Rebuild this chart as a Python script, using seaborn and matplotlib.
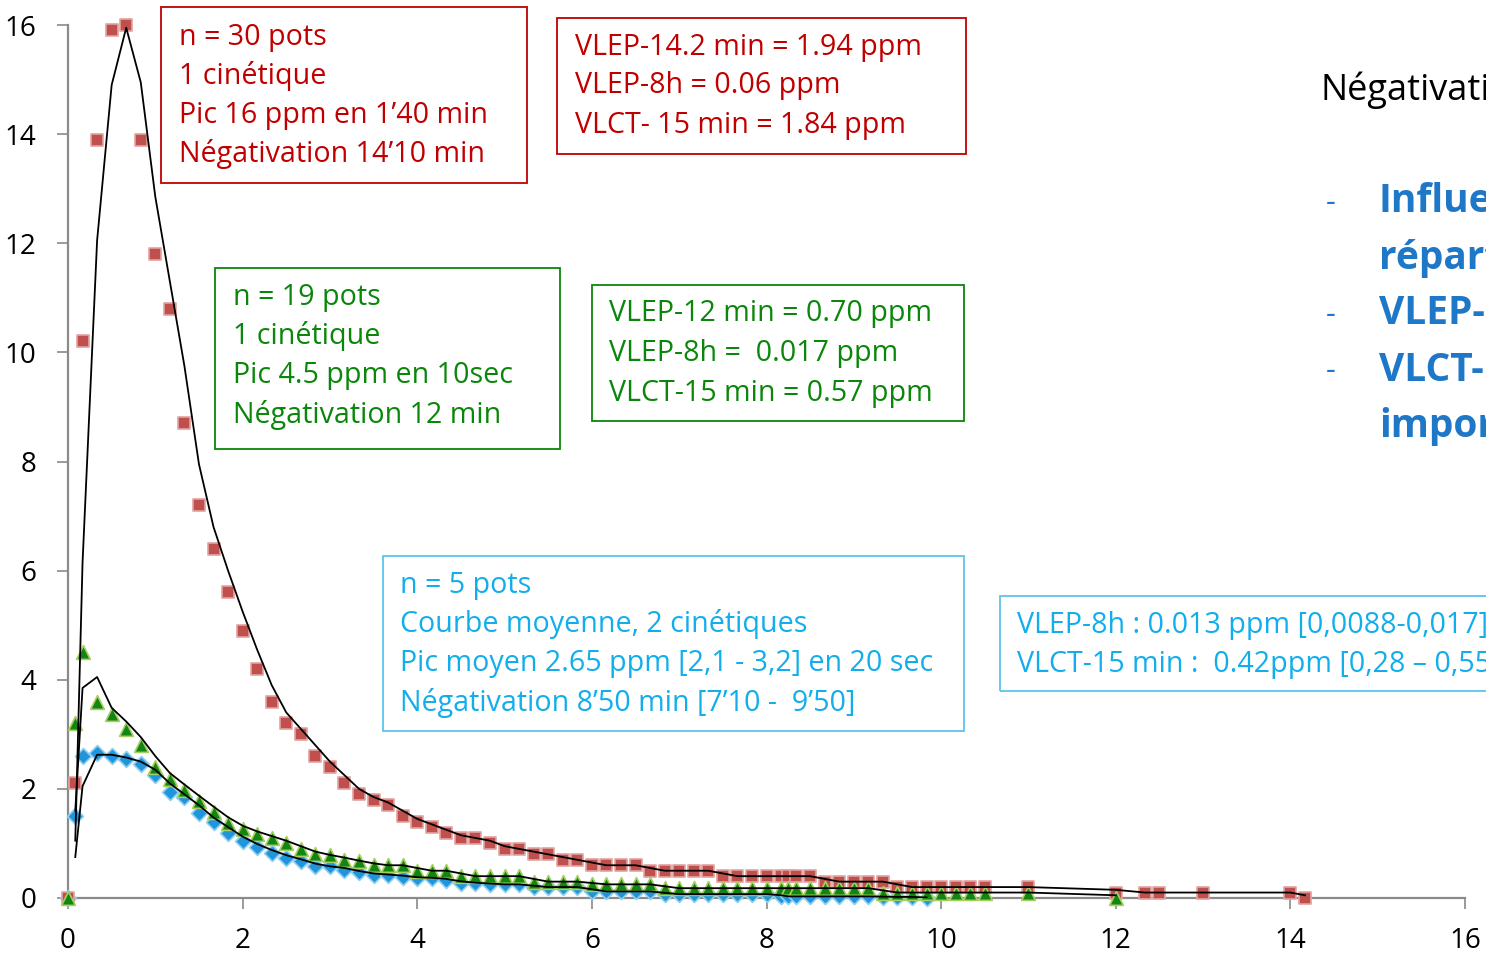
import numpy as np
import pandas as pd
import matplotlib
matplotlib.use("Agg")
import matplotlib.pyplot as plt
import seaborn as sns
from matplotlib.patches import Rectangle

nan = float("nan")

# sampling times (seconds)
temps_s = [0, 5, 10, 20, 30, 40, 50, 60, 70, 80,
           90, 100, 110, 120, 130, 140, 150, 160, 170, 180,
           190, 200, 210, 220, 230, 240, 250, 260, 270, 280,
           290, 300, 310, 320, 330, 340, 350, 360, 370, 380,
           390, 400, 410, 420, 430, 440, 450, 460, 470, 480,
           490, 495, 500, 510, 520, 530, 540, 550, 560, 570,
           580, 590, 600, 610, 620, 630, 660, 720, 740, 750,
           780, 840, 850]

# concentrations (ppm) - 30 pots
pots30 = [0, 2.1, 10.2, 13.9, 15.9, 16.0, 13.9, 11.8, 10.8, 8.7,
          7.2, 6.4, 5.6, 4.9, 4.2, 3.6, 3.2, 3.0, 2.6, 2.4,
          2.1, 1.9, 1.8, 1.7, 1.5, 1.4, 1.3, 1.2, 1.1, 1.1,
          1.0, 0.9, 0.9, 0.8, 0.8, 0.7, 0.7, 0.6, 0.6, 0.6,
          0.6, 0.5, 0.5, 0.5, 0.5, 0.5, 0.4, 0.4, 0.4, 0.4,
          0.4, 0.4, 0.4, 0.4, 0.3, 0.3, 0.3, 0.3, 0.3, 0.2,
          0.2, 0.2, 0.2, 0.2, 0.2, 0.2, 0.2, 0.1, 0.1, 0.1,
          0.1, 0.1, 0.0]

# 19 pots
pots19 = [0, 3.2, 4.5, 3.6, 3.37, 3.1, 2.8, 2.4, 2.18, 1.98,
          1.77, 1.58, 1.38, 1.27, 1.17, 1.1, 1.0, 0.9, 0.8, 0.78,
          0.7, 0.67, 0.6, 0.6, 0.6, 0.5, 0.5, 0.5, 0.4, 0.4,
          0.4, 0.4, 0.4, 0.3, 0.3, 0.3, 0.3, 0.25, 0.25, 0.25,
          0.25, 0.25, 0.18, 0.18, 0.18, 0.18, 0.18, 0.18, 0.18, 0.18,
          0.18, 0.18, 0.18, 0.18, 0.18, 0.18, 0.18, 0.18, 0.1, 0.1,
          0.1, 0.1, 0.1, 0.1, 0.1, 0.1, 0.1, 0.0, nan, nan,
          nan, nan, nan]

# 5 pots (courbe moyenne)
pots5 = [0, 1.5, 2.6, 2.65, 2.6, 2.55, 2.45, 2.25, 1.95, 1.85,
         1.55, 1.4, 1.2, 1.05, 0.93, 0.83, 0.74, 0.68, 0.58, 0.58,
         0.52, 0.47, 0.43, 0.43, 0.39, 0.37, 0.37, 0.33, 0.28, 0.28,
         0.25, 0.25, 0.25, 0.2, 0.2, 0.2, 0.2, 0.12, 0.12, 0.12,
         0.12, 0.12, 0.07, 0.07, 0.07, 0.07, 0.07, 0.07, 0.07, 0.07,
         0.03, 0.03, 0.03, 0.03, 0.03, 0.03, 0.03, 0.03, 0.02, 0.02,
         0.02, 0.0, nan, nan, nan, nan, nan, nan, nan, nan,
         nan, nan, nan]

x_ticks = [0, 2, 4, 6, 8, 10, 12, 14, 16]
y_ticks = [0, 2, 4, 6, 8, 10, 12, 14, 16]

W, H = 1486, 955
plt.rcParams["font.family"] = ["Open Sans", "DejaVu Sans"]

fig = plt.figure(figsize=(W / 100, H / 100), dpi=100)
ax = fig.add_axes([68 / W, 1 - 898 / H, (1465 - 68) / W, (898 - 25) / H])

series = [
    (pots5, "D", 66, "#2294DA", "#8ECFF2"),
    (pots30, "s", 80, "#C0504D", "#E2A3A1"),
    (pots19, "^", 98, "#138513", "#A6CE62"),
]
draw_order = [1, 0, 2]  # red, blue, green on top

for i in draw_order:
    vals, mk, size, fc, ec = series[i]
    df = pd.DataFrame({"t": np.array(temps_s) / 60.0, "ppm": vals}).dropna()
    sns.scatterplot(data=df, x="t", y="ppm", marker=mk, s=size, color=fc,
                    edgecolor=ec, linewidth=1.2, ax=ax, clip_on=False,
                    zorder=3 + i * 0.1)

# moving average trendlines (period 2)
for vals, *_ in series:
    df = pd.DataFrame({"t": np.array(temps_s) / 60.0, "ppm": vals}).dropna()
    df["mm"] = df["ppm"].rolling(2).mean()
    df = df.dropna()
    sns.lineplot(data=df, x="t", y="mm", estimator=None, sort=False,
                 color="black", linewidth=1.3, ax=ax, zorder=5)

ax.set_xlim(0, 16)
ax.set_ylim(0, 16)
ax.set_xticks(x_ticks)
ax.set_yticks(y_ticks)
ax.set_xlabel("")
ax.set_ylabel("")
for s in ["top", "right"]:
    ax.spines[s].set_visible(False)
for s in ["left", "bottom"]:
    ax.spines[s].set_color("#8A8A8A")
    ax.spines[s].set_linewidth(1.6)
ax.tick_params(axis="both", colors="#8A8A8A", width=1.2, labelcolor="black",
               labelsize=20)
ax.tick_params(axis="x", length=8, pad=13)
ax.tick_params(axis="y", length=8, pad=15)
ax.set_facecolor("white")


def box(x0, y0, x1, y1, color):
    fig.patches.append(Rectangle((x0 / W, 1 - y1 / H), (x1 - x0) / W, (y1 - y0) / H,
                                 transform=fig.transFigure, fill=False,
                                 edgecolor=color, linewidth=1.3, zorder=6))


def lines(x, ys, texts, color, size=20.6, weight="normal"):
    for y, t in zip(ys, texts):
        fig.text(x / W, 1 - y / H, t, color=color, fontsize=size,
                 fontweight=weight, va="center", ha="left")


red, green, blue = "#C00000", "#0A870A", "#12AEEC"

box(161, 7, 527, 183, red)
lines(179, [37, 76, 115, 154],
      ["n = 30 pots", "1 cinétique", "Pic 16 ppm en 1’40 min", "Négativation 14’10 min"], red)

box(557, 18, 966, 154, red)
lines(575, [47, 86, 125],
      ["VLEP-14.2 min = 1.94 ppm", "VLEP-8h = 0.06 ppm", "VLCT- 15 min = 1.84 ppm"], red)

box(215, 268, 560, 449, green)
lines(233, [297, 336, 376, 415],
      ["n = 19 pots", "1 cinétique", "Pic 4.5 ppm en 10sec", "Négativation 12 min"], green)

box(592, 285, 964, 421, green)
lines(609, [314, 353, 393],
      ["VLEP-12 min = 0.70 ppm", "VLEP-8h =  0.017 ppm", "VLCT-15 min = 0.57 ppm"], green)

box(383, 556, 964, 731, "#5CC4EE")
lines(400, [585, 624, 663, 703],
      ["n = 5 pots", "Courbe moyenne, 2 cinétiques",
       "Pic moyen 2.65 ppm [2,1 - 3,2] en 20 sec",
       "Négativation 8’50 min [7’10 -  9’50]"], blue)

box(1000, 596, 1500, 691, "#5CC4EE")
lines(1017, [625, 664],
      ["VLEP-8h : 0.013 ppm [0,0088-0,017]", "VLCT-15 min :  0.42ppm [0,28 – 0,55]"], blue)

lines(1321, [90], ["Négativation"], "black", size=26)
lines(1326, [203, 315, 371], ["-", "-", "-"], "#1F77C8", size=22)
lines(1379, [202, 258, 314, 370, 426],
      ["Influence", "répartition", "VLEP-8h", "VLCT-15", "importante"],
      "#1F77C8", size=28, weight="bold")

fig.savefig("out.png", dpi=100, facecolor="white")
